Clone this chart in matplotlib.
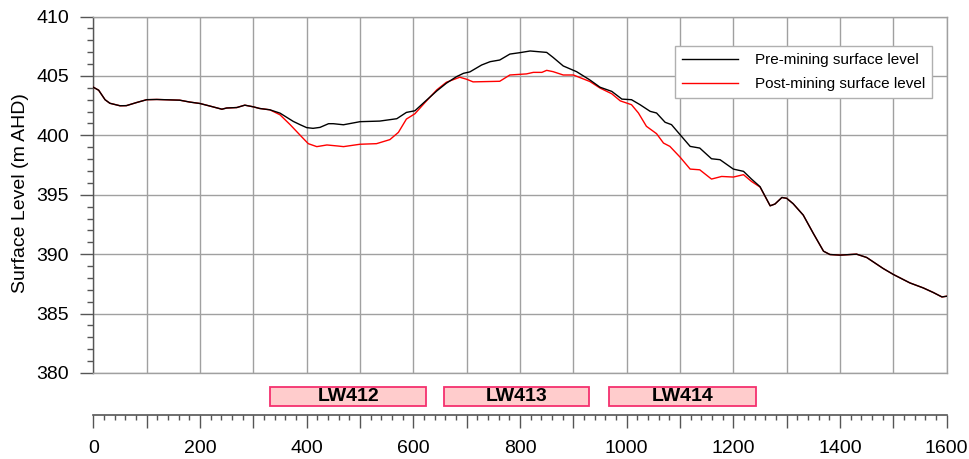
import matplotlib
matplotlib.use("Agg")
import matplotlib.pyplot as plt
from matplotlib.patches import Rectangle
from matplotlib.ticker import MultipleLocator, FuncFormatter

# ---------------------------------------------------------------------------
# DATA
# ---------------------------------------------------------------------------
pre_x = [0, 10, 22, 31, 50, 62, 81, 100, 119, 162, 181, 200, 219, 241, 250, 269,
         284, 300, 312, 331, 350, 375, 388, 400, 412, 425, 441, 450, 469, 500,
         537, 569, 587, 603, 622, 644, 662, 681, 694, 706, 728, 744, 762, 781,
         800, 819, 850, 862, 881, 906, 931, 950, 972, 991, 1009, 1025, 1044,
         1056, 1072, 1084, 1100, 1119, 1137, 1159, 1175, 1200, 1219, 1234, 1250,
         1269, 1278, 1291, 1300, 1312, 1331, 1350, 1369, 1381, 1400, 1431, 1450,
         1481, 1500, 1531, 1556, 1575, 1591, 1600]
pre_level = [404.05, 403.8, 403.0, 402.7, 402.49, 402.5, 402.76, 403.0, 403.02,
             402.96, 402.8, 402.68, 402.46, 402.2, 402.3, 402.34, 402.54, 402.4,
             402.26, 402.15, 401.87, 401.17, 400.89, 400.65, 400.59, 400.67,
             400.98, 400.98, 400.89, 401.15, 401.2, 401.4, 401.93, 402.07,
             402.85, 403.74, 404.39, 404.94, 405.22, 405.34, 405.92, 406.2,
             406.34, 406.84, 406.96, 407.1, 406.98, 406.56, 405.84, 405.36,
             404.66, 404.05, 403.7, 403.05, 403.0, 402.58, 402.02, 401.88,
             401.1, 400.9, 400.06, 399.07, 398.93, 398.03, 397.95, 397.16,
             396.97, 396.32, 395.68, 394.07, 394.22, 394.77, 394.7, 394.25,
             393.29, 391.74, 390.25, 389.97, 389.92, 390.0, 389.72, 388.79,
             388.29, 387.58, 387.16, 386.77, 386.4, 386.46]

post_x = [0, 10, 22, 31, 50, 62, 81, 100, 119, 162, 181, 200, 219, 241, 250, 269,
          284, 300, 312, 331, 350, 369, 388, 403, 419, 438, 459, 469, 500, 531,
          556, 572, 587, 603, 622, 644, 662, 687, 700, 712, 762, 781, 812, 825,
          841, 850, 862, 881, 900, 931, 950, 972, 988, 1009, 1022, 1037, 1056,
          1069, 1081, 1100, 1119, 1137, 1159, 1178, 1200, 1219, 1234, 1250,
          1269, 1278, 1291, 1300, 1312, 1331, 1350, 1369, 1381, 1400, 1431, 1450,
          1481, 1500, 1531, 1556, 1575, 1591, 1600]
post_level = [404.05, 403.8, 403.0, 402.7, 402.49, 402.5, 402.76, 403.0, 403.02,
              402.96, 402.8, 402.68, 402.46, 402.2, 402.3, 402.34, 402.54, 402.4,
              402.26, 402.15, 401.73, 400.9, 400.0, 399.3, 399.05, 399.19, 399.1,
              399.05, 399.25, 399.3, 399.64, 400.25, 401.37, 401.82, 402.77,
              403.83, 404.47, 404.89, 404.72, 404.5, 404.55, 405.08, 405.17,
              405.3, 405.3, 405.47, 405.36, 405.08, 405.08, 404.53, 403.98,
              403.5, 402.9, 402.58, 401.88, 400.76, 400.14, 399.35, 399.07,
              398.17, 397.16, 397.1, 396.32, 396.54, 396.49, 396.69, 396.12,
              395.65, 394.07, 394.22, 394.77, 394.7, 394.25, 393.29, 391.74,
              390.25, 389.97, 389.92, 390.0, 389.72, 388.79, 388.29, 387.58,
              387.16, 386.77, 386.4, 386.46]

panel_names = ['LW412', 'LW413', 'LW414']
panel_start = [332, 657, 967]
panel_end = [624, 929, 1242]

# ---------------------------------------------------------------------------
# PLOT
# ---------------------------------------------------------------------------
plt.rcParams['font.family'] = ['Liberation Sans', 'DejaVu Sans']

GRID = '#a0a0a0'
TICK = '#555555'

fig = plt.figure(figsize=(9.69, 4.59), dpi=100)

# main profile axes
ax = fig.add_axes([0.0963, 0.1874, 0.8807, 0.7766])
ax.plot(post_x, post_level, color='#ff0000', lw=1.0, zorder=3,
        label='Post-mining surface level')
ax.plot(pre_x, pre_level, color='black', lw=1.0, zorder=4,
        label='Pre-mining surface level')

ax.set_xlim(0, 1600)
ax.set_ylim(380, 410)
ax.xaxis.set_major_locator(MultipleLocator(100))
ax.yaxis.set_major_locator(MultipleLocator(5))
ax.yaxis.set_minor_locator(MultipleLocator(1))
ax.grid(True, which='major', color=GRID, lw=1.0)
ax.tick_params(axis='x', which='both', length=0, labelbottom=False)
ax.tick_params(axis='y', which='major', length=9.4, width=1.0, color=TICK,
               labelsize=14, pad=8)
ax.tick_params(axis='y', which='minor', length=4.3, width=1.0, color=TICK)
for s in ax.spines.values():
    s.set_color(GRID)
    s.set_linewidth(1.0)
ax.spines['left'].set_color(TICK)

ax.set_ylabel('Surface Level (m AHD)', fontsize=14)
ax.yaxis.set_label_coords(-0.075, 0.505)

# legend: black first, then red
handles, labels = ax.get_legend_handles_labels()
leg = ax.legend(handles[::-1], labels[::-1], loc='upper right',
                bbox_to_anchor=(0.983, 0.917), fontsize=11, fancybox=False,
                edgecolor='#b0b0b0', framealpha=1.0, handlelength=3.7,
                handletextpad=1.1, labelspacing=0.65, borderpad=0.45,
                borderaxespad=0.0)
leg.get_frame().set_linewidth(1.0)

# lower axes with longwall panels and the x scale
bx = fig.add_axes([0.0963, 0.0959, 0.8807, 0.0915])
bx.set_xlim(0, 1600)
bx.set_ylim(0, 1)
bx.patch.set_alpha(0)
for name, x0, x1 in zip(panel_names, panel_start, panel_end):
    bx.add_patch(Rectangle((x0, 0.22), x1 - x0, 0.45, facecolor='#ffcccc',
                           edgecolor='#f5306e', lw=1.3))
    bx.text((x0 + x1) / 2, 0.43, name, ha='center', va='center',
            fontsize=14, fontweight='bold')

# ticks every 100, labels only every 200
bx.xaxis.set_major_locator(MultipleLocator(100))
bx.xaxis.set_minor_locator(MultipleLocator(20))
bx.xaxis.set_major_formatter(FuncFormatter(
    lambda v, pos: '%d' % v if int(round(v)) % 200 == 0 else ''))
bx.set_yticks([])
for side in ['top', 'left', 'right']:
    bx.spines[side].set_visible(False)
bx.spines['bottom'].set_color(TICK)
bx.spines['bottom'].set_linewidth(1.2)
bx.tick_params(axis='x', which='major', length=9, width=1.0, color=TICK,
               labelsize=14, pad=9)
bx.tick_params(axis='x', which='minor', length=3.8, width=1.0, color=TICK)

fig.savefig('out.png', dpi=100)
